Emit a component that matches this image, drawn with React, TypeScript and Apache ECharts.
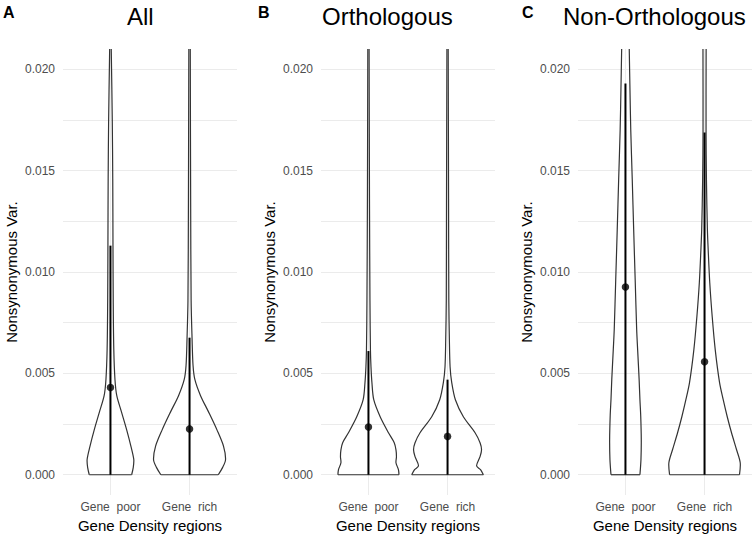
import React, { useEffect, useRef } from "react";
import * as echarts from "echarts";

const categories = ["Gene  poor", "Gene  rich"];
const categoryPositions = [1, 2];
const panelTitles = ["All", "Orthologous", "Non-Orthologous"];
const panelTags = ["A", "B", "C"];
const yLabelValues = [0, 0.005, 0.01, 0.015, 0.02];
const yGridValues = [0, 0.0025, 0.005, 0.0075, 0.01, 0.0125, 0.015, 0.0175, 0.02];

// Violin outlines: y levels and half-widths (x units)
const allPoorY = [0, 0.00035, 0.00075, 0.0014, 0.0022, 0.0031, 0.0039, 0.0047, 0.0062, 0.0086, 0.0113, 0.0146, 0.0175, 0.021];
const allPoorW = [0.268, 0.288, 0.295, 0.259, 0.206, 0.139, 0.08, 0.057, 0.042, 0.035, 0.032, 0.029, 0.023, 0.01];
const allRichY = [0, 0.00035, 0.00074, 0.0014, 0.0022, 0.0031, 0.0039, 0.0047, 0.0054, 0.0067, 0.0086, 0.0136, 0.021];
const allRichW = [0.363, 0.417, 0.455, 0.43, 0.348, 0.24, 0.139, 0.067, 0.044, 0.032, 0.02, 0.014, 0.009];

const orthoPoorY = [0, 0.00025, 0.00059, 0.00089, 0.00123, 0.00158, 0.00207, 0.00286, 0.0037, 0.00454, 0.00533, 0.00617, 0.0086, 0.0136, 0.021];
const orthoPoorW = [0.386, 0.379, 0.348, 0.354, 0.348, 0.326, 0.253, 0.148, 0.067, 0.044, 0.032, 0.025, 0.019, 0.013, 0.008];
const orthoRichY = [0, 0.00025, 0.00044, 0.00089, 0.00123, 0.00158, 0.00207, 0.00286, 0.0037, 0.00454, 0.00533, 0.0067, 0.0086, 0.0136, 0.021];
const orthoRichW = [0.453, 0.417, 0.367, 0.411, 0.43, 0.411, 0.348, 0.2, 0.099, 0.053, 0.032, 0.023, 0.016, 0.013, 0.008];

const nonOrthoPoorY = [0, 0.00074, 0.00173, 0.00291, 0.0037, 0.00469, 0.00617, 0.00715, 0.00962, 0.01209, 0.01455, 0.01702, 0.019, 0.021];
const nonOrthoPoorW = [0.183, 0.196, 0.2, 0.193, 0.183, 0.173, 0.154, 0.142, 0.123, 0.104, 0.086, 0.067, 0.057, 0.048];
const nonOrthoRichY = [0, 0.00059, 0.00123, 0.00207, 0.00286, 0.0037, 0.00454, 0.00617, 0.00779, 0.00947, 0.0111, 0.01209, 0.01455, 0.01702, 0.021];
const nonOrthoRichW = [0.442, 0.451, 0.405, 0.341, 0.287, 0.236, 0.19, 0.135, 0.097, 0.066, 0.046, 0.036, 0.024, 0.019, 0.02];

// Summary: mean points and line ranges
const allMeans = [0.0043, 0.00226];
const allRangeLow = [0, 0];
const allRangeHigh = [0.0113, 0.00676];
const orthoMeans = [0.00235, 0.00189];
const orthoRangeLow = [0, 0];
const orthoRangeHigh = [0.0061, 0.00469];
const nonOrthoMeans = [0.00926, 0.00557];
const nonOrthoRangeLow = [0, 0];
const nonOrthoRangeHigh = [0.0193, 0.01688];

const panels = [
  { violins: [[allPoorY, allPoorW], [allRichY, allRichW]], means: allMeans, low: allRangeLow, high: allRangeHigh },
  { violins: [[orthoPoorY, orthoPoorW], [orthoRichY, orthoRichW]], means: orthoMeans, low: orthoRangeLow, high: orthoRangeHigh },
  { violins: [[nonOrthoPoorY, nonOrthoPoorW], [nonOrthoRichY, nonOrthoRichW]], means: nonOrthoMeans, low: nonOrthoRangeLow, high: nonOrthoRangeHigh },
];

const gridLefts = [63, 321, 578];
const gridWidth = 174;
const titleLefts = [127, 322, 563];
const tagLefts = [3, 258, 522];
const FONT = "'Liberation Sans', Arial, Helvetica, sans-serif";

export default function App() {
  const ref = useRef<HTMLDivElement>(null);

  useEffect(() => {
    if (!ref.current) return;
    const chart = echarts.init(ref.current, undefined, { renderer: "svg" });

    const grid: any[] = [];
    const xAxis: any[] = [];
    const yAxis: any[] = [];
    const series: any[] = [];
    const graphic: any[] = [];

    panels.forEach((p, pi) => {
      grid.push({ left: gridLefts[pi], width: gridWidth, top: 49, bottom: 41 });
      xAxis.push({
        type: "value",
        gridIndex: pi,
        min: 0.4,
        max: 2.6,
        axisLine: { show: false },
        axisTick: { show: false, customValues: categoryPositions },
        axisLabel: {
          customValues: categoryPositions,
          formatter: (v: number) => categories[Math.round(v) - 1] ?? "",
          color: "#4d4d4d",
          fontSize: 12,
          fontFamily: FONT,
          margin: 6,
        },
        splitLine: { show: true, lineStyle: { color: "#ebebeb", width: 1 } },
      });
      yAxis.push({
        type: "value",
        gridIndex: pi,
        min: -0.001,
        max: 0.021,
        axisLine: { show: false },
        axisTick: { show: false, customValues: yGridValues },
        axisLabel: {
          customValues: yLabelValues,
          formatter: (v: number) => v.toFixed(3),
          color: "#4d4d4d",
          fontSize: 12,
          fontFamily: FONT,
          margin: 8,
        },
        splitLine: { show: true, lineStyle: { color: "#ebebeb", width: 1 } },
      });

      const violinData = p.violins.map((v, i) => [categoryPositions[i], 0, i]);
      series.push({
        type: "custom",
        xAxisIndex: pi,
        yAxisIndex: pi,
        data: violinData,
        encode: { x: 0, y: 1 },
        renderItem: (params: any, api: any) => {
          const i = params.dataIndex;
          const [ys, ws] = p.violins[i];
          const cx = categoryPositions[i];
          const left = ys.map((y: number, k: number) => api.coord([cx - ws[k], y]));
          const right = ys.map((y: number, k: number) => api.coord([cx + ws[k], y]));
          const style = { stroke: "#333333", fill: "none", lineWidth: 1.2 };
          return {
            type: "group",
            children: [
              { type: "polyline", shape: { points: left, smooth: 0.3 }, style },
              { type: "polyline", shape: { points: right, smooth: 0.3 }, style },
              { type: "line", shape: { x1: left[0][0], y1: left[0][1], x2: right[0][0], y2: right[0][1] }, style },
            ],
          };
        },
        z: 2,
      });
      series.push({
        type: "custom",
        xAxisIndex: pi,
        yAxisIndex: pi,
        data: categoryPositions.map((x, i) => [x, p.low[i], p.high[i]]),
        encode: { x: 0, y: [1, 2] },
        renderItem: (params: any, api: any) => {
          const a = api.coord([api.value(0), api.value(1)]);
          const b = api.coord([api.value(0), api.value(2)]);
          return {
            type: "line",
            shape: { x1: a[0], y1: a[1], x2: b[0], y2: b[1] },
            style: { stroke: "#000000", lineWidth: 2 },
          };
        },
        z: 3,
      });
      series.push({
        type: "scatter",
        xAxisIndex: pi,
        yAxisIndex: pi,
        data: categoryPositions.map((x, i) => [x, p.means[i]]),
        symbol: "circle",
        symbolSize: 7.5,
        itemStyle: { color: "#000000" },
        z: 4,
      });

      graphic.push({
        type: "text",
        left: titleLefts[pi],
        top: 4,
        style: { text: panelTitles[pi], font: `24px ${FONT}`, fill: "#000000" },
      });
      graphic.push({
        type: "text",
        left: tagLefts[pi],
        top: 4,
        style: { text: panelTags[pi], font: `bold 16px ${FONT}`, fill: "#000000" },
      });
      graphic.push({
        type: "text",
        x: gridLefts[pi] - 52,
        y: 272,
        rotation: Math.PI / 2,
        style: { text: "Nonsynonymous Var.", font: `15px ${FONT}`, fill: "#000000", align: "center", verticalAlign: "middle" },
      });
      graphic.push({
        type: "text",
        x: gridLefts[pi] + gridWidth / 2,
        y: 525,
        style: { text: "Gene Density regions", font: `15px ${FONT}`, fill: "#000000", align: "center", verticalAlign: "middle" },
      });
    });

    chart.setOption({
      animation: false,
      backgroundColor: "#ffffff",
      grid,
      xAxis,
      yAxis,
      series,
      graphic,
    });

    return () => chart.dispose();
  }, []);

  return <div ref={ref} style={{ position: "absolute", left: 0, top: 0, width: 756, height: 536 }} />;
}
